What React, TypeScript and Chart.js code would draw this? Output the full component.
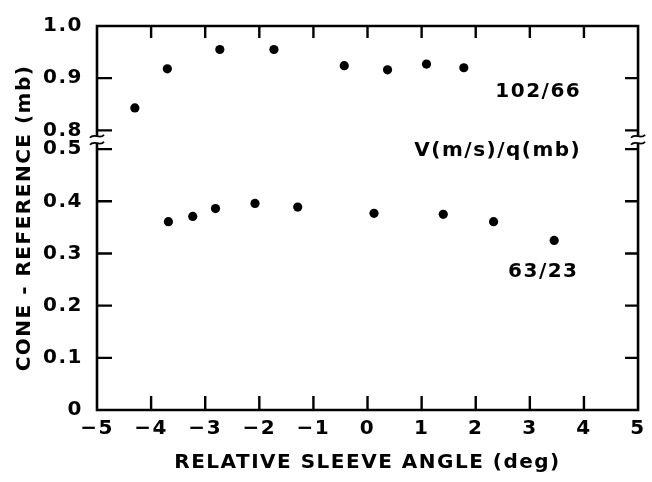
import React, { useEffect, useRef } from 'react';
import { Chart, registerables } from 'chart.js';

Chart.register(...registerables);

// ---- data ----
const angleTicks = [-5, -4, -3, -2, -1, 0, 1, 2, 3, 4, 5];
const angleTickLabels = ['−5', '−4', '−3', '−2', '−1', '0', '1', '2', '3', '4', '5'];
const diffTickValues = [0, 0.1, 0.2, 0.3, 0.4, 0.5, 0.8, 0.9, 1.0];
const diffTickLabels = ['0', '0.1', '0.2', '0.3', '0.4', '0.5', '0.8', '0.9', '1.0'];

// series 102/66 (V m/s / q mb)
const highAngle = [-4.3, -3.7, -2.73, -1.73, -0.43, 0.37, 1.09, 1.78];
const highDiff = [0.843, 0.918, 0.955, 0.955, 0.924, 0.916, 0.927, 0.92];

// series 63/23
const lowAngle = [-3.68, -3.23, -2.81, -2.08, -1.29, 0.12, 1.4, 2.33, 3.45];
const lowDiff = [0.361, 0.371, 0.386, 0.396, 0.389, 0.377, 0.375, 0.361, 0.325];

const seriesLabels = ['102/66', '63/23'];
const keyTitle = 'V(m/s)/q(mb)';
const xTitle = 'RELATIVE SLEEVE ANGLE (deg)';
const yTitle = 'CONE - REFERENCE (mb)';

// broken axis: 0..0.5, gap, 0.8..1.0
const BREAK_LOW = 0.5;
const BREAK_HIGH = 0.8;
const BREAK_GAP = 0.036;
const toAxis = (v: number) => (v >= BREAK_HIGH - 1e-9 ? v - (BREAK_HIGH - BREAK_LOW) + BREAK_GAP : v);
const Y_MAX = toAxis(1.0);

const FONT_FAMILY = '"DejaVu Sans", sans-serif';
const FONT = { family: FONT_FAMILY, size: 20, weight: 'bold' as const };
const INK = '#000';

const framePlugin = {
  id: 'frameAndNotes',
  beforeDraw(chart: any) {
    const ctx = chart.ctx;
    ctx.letterSpacing = '1.5px';
  },
  afterDraw(chart: any) {
    const ctx = chart.ctx;
    const { left, right, top, bottom } = chart.chartArea;
    const xs = chart.scales.x;
    const ys = chart.scales.y;
    const yb = (ys.getPixelForValue(BREAK_LOW) + ys.getPixelForValue(BREAK_LOW + BREAK_GAP)) / 2;
    ctx.save();
    ctx.strokeStyle = INK;
    ctx.lineWidth = 2.6;
    ctx.lineCap = 'butt';
    // frame with breaks on left and right
    ctx.beginPath();
    ctx.moveTo(left, bottom);
    ctx.lineTo(right, bottom);
    ctx.moveTo(left, top);
    ctx.lineTo(right, top);
    ctx.moveTo(left, bottom + 1.3);
    ctx.lineTo(left, yb + 4);
    ctx.moveTo(left, yb - 4);
    ctx.lineTo(left, top - 1.3);
    ctx.moveTo(right, bottom + 1.3);
    ctx.lineTo(right, yb + 4);
    ctx.moveTo(right, yb - 4);
    ctx.lineTo(right, top - 1.3);
    ctx.stroke();

    // break marks (two tildes)
    ctx.lineWidth = 1.8;
    [left, right].forEach((ax) => {
      [-3.5, 3.5].forEach((dy) => {
        const cy = yb + dy;
        ctx.beginPath();
        ctx.moveTo(ax - 7, cy + 1.5);
        ctx.bezierCurveTo(ax - 3, cy - 4, ax + 3, cy + 4, ax + 7, cy - 1.5);
        ctx.stroke();
      });
    });

    // inward ticks
    ctx.lineWidth = 2.4;
    ctx.beginPath();
    angleTicks.forEach((v) => {
      if (v === angleTicks[0] || v === angleTicks[angleTicks.length - 1]) return;
      const px = xs.getPixelForValue(v);
      ctx.moveTo(px, bottom);
      ctx.lineTo(px, bottom - 14);
      ctx.moveTo(px, top);
      ctx.lineTo(px, top + 12);
    });
    diffTickValues.forEach((v) => {
      if (v === diffTickValues[0] || v === diffTickValues[diffTickValues.length - 1]) return;
      const py = ys.getPixelForValue(toAxis(v));
      ctx.moveTo(left, py);
      ctx.lineTo(left + 15, py);
      ctx.moveTo(right, py);
      ctx.lineTo(right - 13, py);
    });
    ctx.stroke();

    // text notes
    ctx.fillStyle = INK;
    ctx.font = `bold 20px ${FONT_FAMILY}`;
    ctx.letterSpacing = '1.5px';
    ctx.textAlign = 'right';
    ctx.textBaseline = 'middle';
    ctx.fillText(seriesLabels[0], xs.getPixelForValue(3.95), ys.getPixelForValue(toAxis(0.873)));
    ctx.fillText(keyTitle, xs.getPixelForValue(3.95), ys.getPixelForValue(0.496));
    ctx.fillText(seriesLabels[1], xs.getPixelForValue(3.9), ys.getPixelForValue(0.264));
    ctx.restore();
    ctx.letterSpacing = '0px';
  },
};

export default function App() {
  const ref = useRef<HTMLCanvasElement | null>(null);

  useEffect(() => {
    if (!ref.current) return;
    const chart = new Chart(ref.current, {
      type: 'scatter',
      data: {
        datasets: [
          {
            label: seriesLabels[0],
            data: highAngle.map((a, i) => ({ x: a, y: toAxis(highDiff[i]) })),
            backgroundColor: INK,
            borderColor: INK,
            pointRadius: 4.6,
            pointBorderWidth: 0,
          },
          {
            label: seriesLabels[1],
            data: lowAngle.map((a, i) => ({ x: a, y: toAxis(lowDiff[i]) })),
            backgroundColor: INK,
            borderColor: INK,
            pointRadius: 4.6,
            pointBorderWidth: 0,
          },
        ],
      },
      options: {
        animation: false,
        responsive: false,
        devicePixelRatio: 1,
        layout: { padding: { left: 0, right: 9, top: 20, bottom: 0 } },
        plugins: {
          legend: { display: false },
          tooltip: { enabled: false },
          title: { display: false },
        },
        scales: {
          x: {
            type: 'linear',
            min: -5,
            max: 5,
            afterBuildTicks: (s: any) => {
              s.ticks = angleTicks.map((v) => ({ value: v }));
            },
            afterFit: (s: any) => {
              s.height = 72;
            },
            ticks: {
              autoSkip: false,
              maxRotation: 0,
              padding: 7,
              color: INK,
              font: FONT,
              callback: (v: any) => angleTickLabels[angleTicks.indexOf(Number(v))],
            },
            grid: { display: false, drawTicks: false },
            border: { display: false },
            title: {
              display: true,
              text: xTitle,
              color: INK,
              font: FONT,
              padding: { top: 0, bottom: 7 },
            },
          },
          y: {
            type: 'linear',
            min: 0,
            max: Y_MAX,
            afterBuildTicks: (s: any) => {
              s.ticks = diffTickValues.map((v) => ({ value: toAxis(v) }));
            },
            afterFit: (s: any) => {
              s.width = 97;
            },
            ticks: {
              autoSkip: false,
              padding: 14,
              color: INK,
              font: FONT,
              callback: (v: any) => {
                const idx = diffTickValues.findIndex((d) => Math.abs(toAxis(d) - Number(v)) < 1e-6);
                return idx >= 0 ? diffTickLabels[idx] : '';
              },
            },
            grid: { display: false, drawTicks: false },
            border: { display: false },
            title: {
              display: true,
              text: yTitle,
              color: INK,
              font: FONT,
              padding: { top: 13, bottom: 0 },
            },
          },
        },
      },
      plugins: [framePlugin],
    });
    return () => chart.destroy();
  }, []);

  return (
    <div style={{ position: 'fixed', left: 0, top: 0, width: 652, height: 482, background: '#fff' }}>
      <canvas ref={ref} width={652} height={482} style={{ display: 'block' }} />
    </div>
  );
}
